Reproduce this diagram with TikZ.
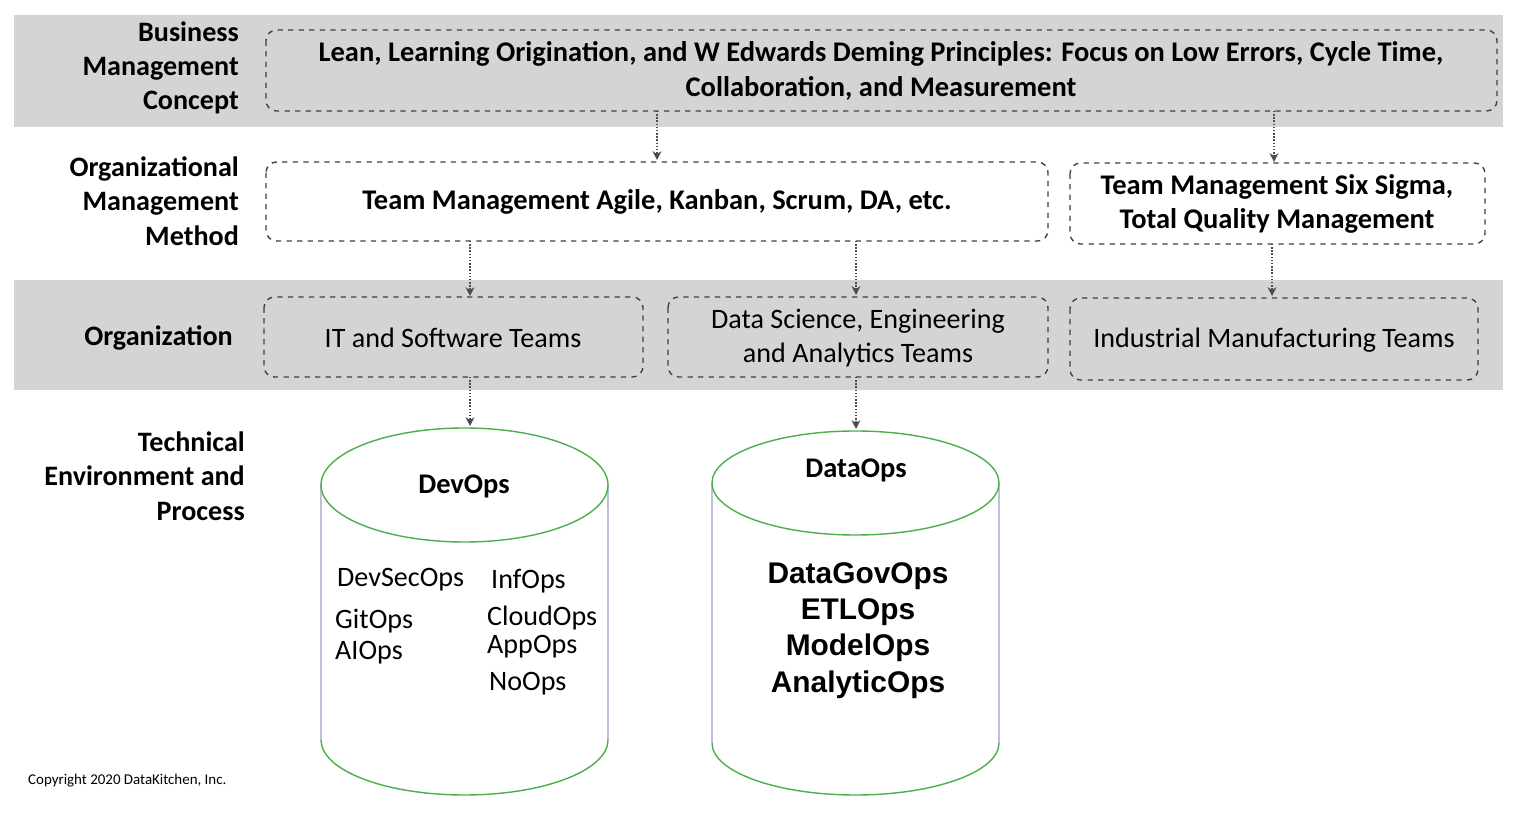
\documentclass[tikz,border=0pt]{standalone}
\usepackage{fontspec}
\setmainfont{Carlito}
\newfontfamily\arialf{Liberation Sans}
\usetikzlibrary{arrows.meta}
\begin{document}
\begin{tikzpicture}[x=0.02cm,y=-0.02cm,
 band/.style={fill=black!17,draw=none},
 box/.style={draw=black!75,dashed,thick,rounded corners=6pt},
 lab/.style={font=\fontsize{16}{19.5}\selectfont\bfseries,align=right,anchor=east},
 txt/.style={font=\fontsize{16}{19.5}\selectfont,align=center},
 btxt/.style={font=\fontsize{16.2}{19.5}\selectfont\bfseries,align=center},
 arr/.style={densely dotted,thick,black!70,-{Stealth[length=5pt,width=5pt]}},
 item/.style={font=\fontsize{16}{19}\selectfont,anchor=west},
 ditem/.style={font=\arialf\fontsize{17}{20}\selectfont\bfseries}]
\useasboundingbox (0,0) rectangle (1515,813);
\fill[white] (0,0) rectangle (1515,813);
\fill[band] (14,15) rectangle (1503,127);
\fill[band] (14,280) rectangle (1503,390);
% labels
\node[lab] (l1) at (245,68) {Business\\Management\\Concept};
\node[lab] (l2) at (245,201) {Organizational\\Management\\Method};
\node[lab] (l3) at (239,338) {Organization};
\node[lab] (l4) at (251,476) {Technical\\Environment and\\Process};
% boxes
\draw[box] (266,30) rectangle (1497,111);
\node[btxt] (t) at (881,71) {Lean, Learning Origination, and W Edwards Deming Principles: Focus on Low Errors, Cycle Time,\\Collaboration, and Measurement};
\draw[box] (266,162) rectangle (1048,241);
\node[btxt] (ag) at (657,202) {Team Management Agile, Kanban, Scrum, DA, etc.};
\draw[box] (1070,163) rectangle (1485,244);
\node[btxt] (ss) at (1277,204) {Team Management Six Sigma,\\Total Quality Management};
\draw[box] (264,297) rectangle (643,377);
\node[txt] (it) at (453,338) {IT and Software Teams};
\draw[box] (668,297) rectangle (1048,377);
\node[txt] (ds) at (858,338) {Data Science, Engineering\\and Analytics Teams};
\draw[box] (1070,298) rectangle (1478,380);
\node[txt] (im) at (1274,340) {Industrial Manufacturing Teams};
% arrows
\coordinate (a1) at (657,111); \coordinate (b1) at (657,160);
\coordinate (a2) at (1274,111); \coordinate (b2) at (1274,162);
\coordinate (a3) at (470,241); \coordinate (b3) at (470,296);
\coordinate (a4) at (856,241); \coordinate (b4) at (856,295);
\coordinate (a5) at (1272,244); \coordinate (b5) at (1272,296);
\coordinate (a6) at (470,377); \coordinate (b6) at (470,426);
\coordinate (a7) at (856,377); \coordinate (b7) at (856,429);
\foreach \i in {1,...,7} \draw[arr] (a\i) -- (b\i);
% cylinders
\draw[blue!25!gray!40,thick] (321,485) -- (321,740) (608,485) -- (608,740);
\draw[green!55!black!70,thick] (464.5,485) ellipse [x radius=143.5,y radius=57];
\draw[green!55!black!70,thick] (321,740) arc[start angle=180,end angle=360,x radius=143.5,y radius=-55];
\node[btxt] (dv) at (464,486) {DevOps};
\node[item] at (331,580) {DevSecOps};
\node[item] at (329,621) {GitOps};
\node[item] at (329,653) {AIOps};
\node[item] at (485,581) {InfOps};
\node[item] at (481,618) {CloudOps};
\node[item] at (481,647) {AppOps};
\node[item] at (483,684) {NoOps};
\draw[blue!25!gray!40,thick] (712,483) -- (712,743) (999,483) -- (999,743);
\draw[green!55!black!70,thick] (855.5,483) ellipse [x radius=143.5,y radius=52];
\draw[green!55!black!70,thick] (712,743) arc[start angle=180,end angle=360,x radius=143.5,y radius=-52];
\node[btxt] (dt) at (856,470) {DataOps};
\node[ditem] at (858,576) {DataGovOps};
\node[ditem] at (858,612) {ETLOps};
\node[ditem] at (858,648) {ModelOps};
\node[ditem] at (858,685) {AnalyticOps};
\node[font=\fontsize{8.5}{10}\selectfont,anchor=west] (c) at (22,781) {Copyright 2020 DataKitchen, Inc.};
\end{tikzpicture}
\end{document}
